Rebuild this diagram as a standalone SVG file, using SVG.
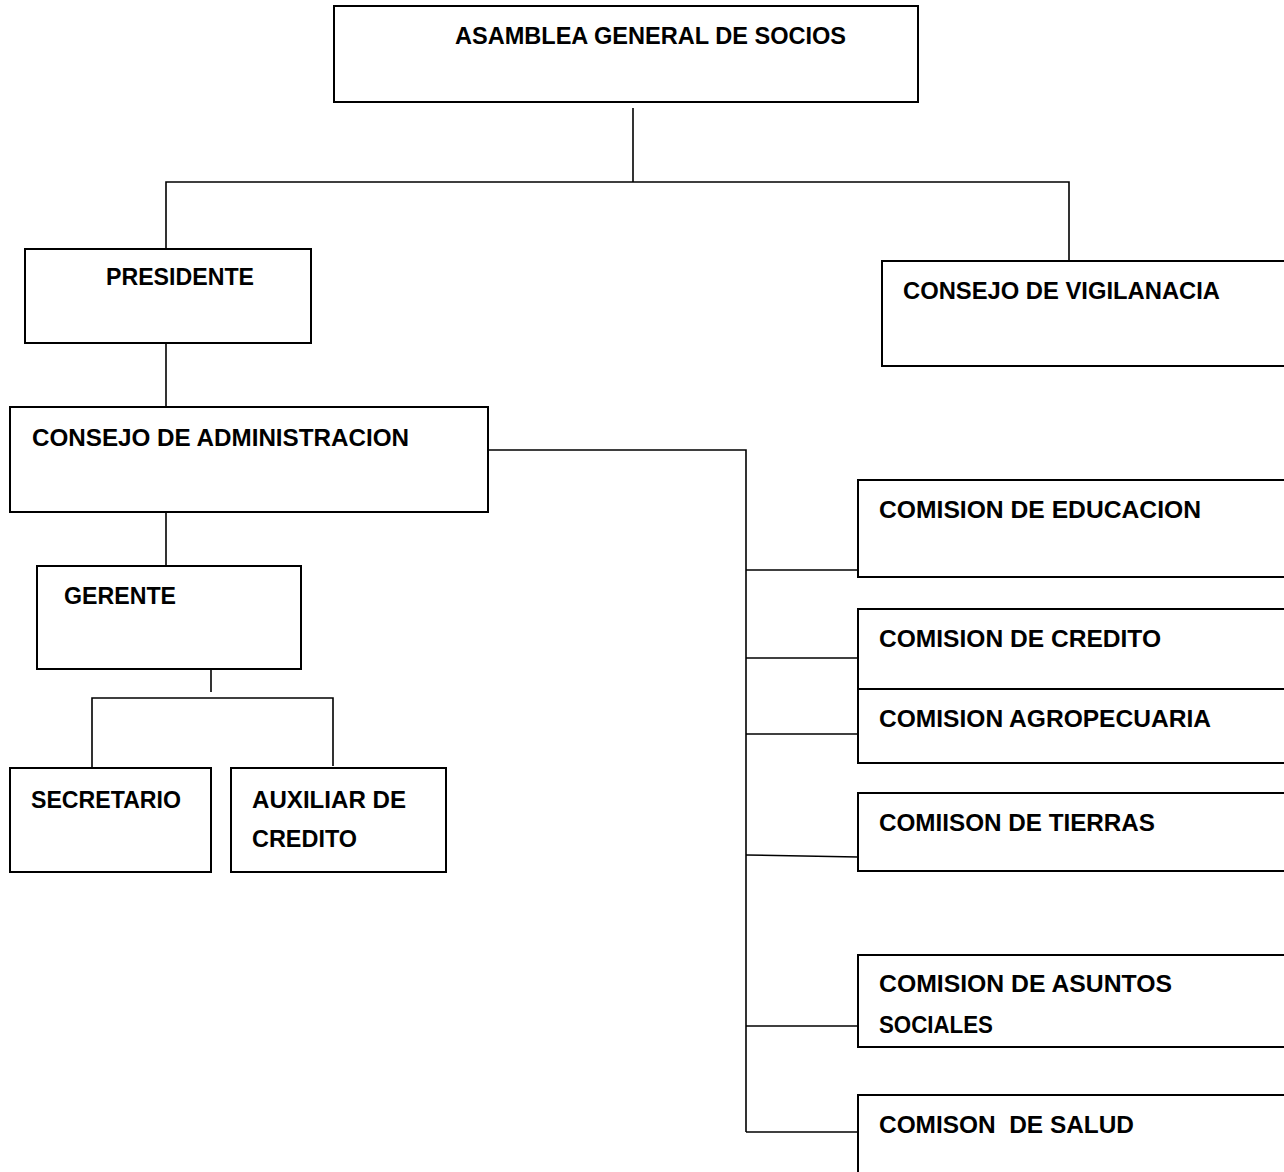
<svg xmlns="http://www.w3.org/2000/svg" width="1284" height="1172" viewBox="0 0 1284 1172">
<style>
.box{fill:#fff;stroke:#000;stroke-width:2}
.lbl{font-family:"Liberation Sans",Arial,sans-serif;font-weight:bold;font-size:23.5px;fill:#000}
.conn line,.conn polyline{stroke:#000;stroke-width:1.6;fill:none}
</style>
<rect width="1284" height="1172" fill="#fff"/>
<g class="conn">
<line x1="633" y1="108" x2="633" y2="182"/>
<polyline points="166,249 166,182 1069,182 1069,261"/>
<line x1="166" y1="343" x2="166" y2="407"/>
<polyline points="488,450 746,450 746,1132"/>
<line x1="746" y1="570" x2="858" y2="570"/>
<line x1="746" y1="658" x2="858" y2="658"/>
<line x1="746" y1="734" x2="858" y2="734"/>
<line x1="746" y1="855" x2="858" y2="857"/>
<line x1="746" y1="1026" x2="858" y2="1026"/>
<line x1="746" y1="1132" x2="858" y2="1132"/>
<line x1="166" y1="512" x2="166" y2="566"/>
<line x1="211" y1="670" x2="211" y2="692"/>
<polyline points="92,771 92,698 333,698 333,766"/>
</g>
<g id="asamblea"><rect class="box" x="334" y="6" width="584" height="96"/><text class="lbl" x="455" y="44" textLength="391" lengthAdjust="spacingAndGlyphs">ASAMBLEA GENERAL DE SOCIOS</text></g>
<g id="presidente"><rect class="box" x="25" y="249" width="286" height="94"/><text class="lbl" x="106" y="285" textLength="148" lengthAdjust="spacingAndGlyphs">PRESIDENTE</text></g>
<g id="vigilancia"><rect class="box" x="882" y="261" width="404" height="105"/><text class="lbl" x="903" y="299" textLength="317" lengthAdjust="spacingAndGlyphs">CONSEJO DE VIGILANACIA</text></g>
<g id="administracion"><rect class="box" x="10" y="407" width="478" height="105"/><text class="lbl" x="32" y="446" textLength="377" lengthAdjust="spacingAndGlyphs">CONSEJO DE ADMINISTRACION</text></g>
<g id="gerente"><rect class="box" x="37" y="566" width="264" height="103"/><text class="lbl" x="64" y="604" textLength="112" lengthAdjust="spacingAndGlyphs">GERENTE</text></g>
<g id="secretario"><rect class="box" x="10" y="768" width="201" height="104"/><text class="lbl" x="31" y="808" textLength="150" lengthAdjust="spacingAndGlyphs">SECRETARIO</text></g>
<g id="auxiliar"><rect class="box" x="231" y="768" width="215" height="104"/><text class="lbl" x="252" y="808" textLength="154" lengthAdjust="spacingAndGlyphs">AUXILIAR DE</text><text class="lbl" x="252" y="847" textLength="105" lengthAdjust="spacingAndGlyphs">CREDITO</text></g>
<g id="educacion"><rect class="box" x="858" y="480" width="428" height="97"/><text class="lbl" x="879" y="518" textLength="322" lengthAdjust="spacingAndGlyphs">COMISION DE EDUCACION</text></g>
<g id="credito"><rect class="box" x="858" y="609" width="428" height="80"/><text class="lbl" x="879" y="647" textLength="282" lengthAdjust="spacingAndGlyphs">COMISION DE CREDITO</text></g>
<g id="agropecuaria"><rect class="box" x="858" y="689" width="428" height="74"/><text class="lbl" x="879" y="727" textLength="332" lengthAdjust="spacingAndGlyphs">COMISION AGROPECUARIA</text></g>
<g id="tierras"><rect class="box" x="858" y="793" width="428" height="78"/><text class="lbl" x="879" y="831" textLength="276" lengthAdjust="spacingAndGlyphs">COMIISON DE TIERRAS</text></g>
<g id="sociales"><rect class="box" x="858" y="955" width="428" height="92"/><text class="lbl" x="879" y="992" textLength="293" lengthAdjust="spacingAndGlyphs">COMISION DE ASUNTOS</text><text class="lbl" x="879" y="1033" textLength="114" lengthAdjust="spacingAndGlyphs">SOCIALES</text></g>
<g id="salud"><rect class="box" x="858" y="1095" width="428" height="90"/><text class="lbl" x="879" y="1133" textLength="255" lengthAdjust="spacingAndGlyphs" xml:space="preserve">COMISON  DE SALUD</text></g>
</svg>
